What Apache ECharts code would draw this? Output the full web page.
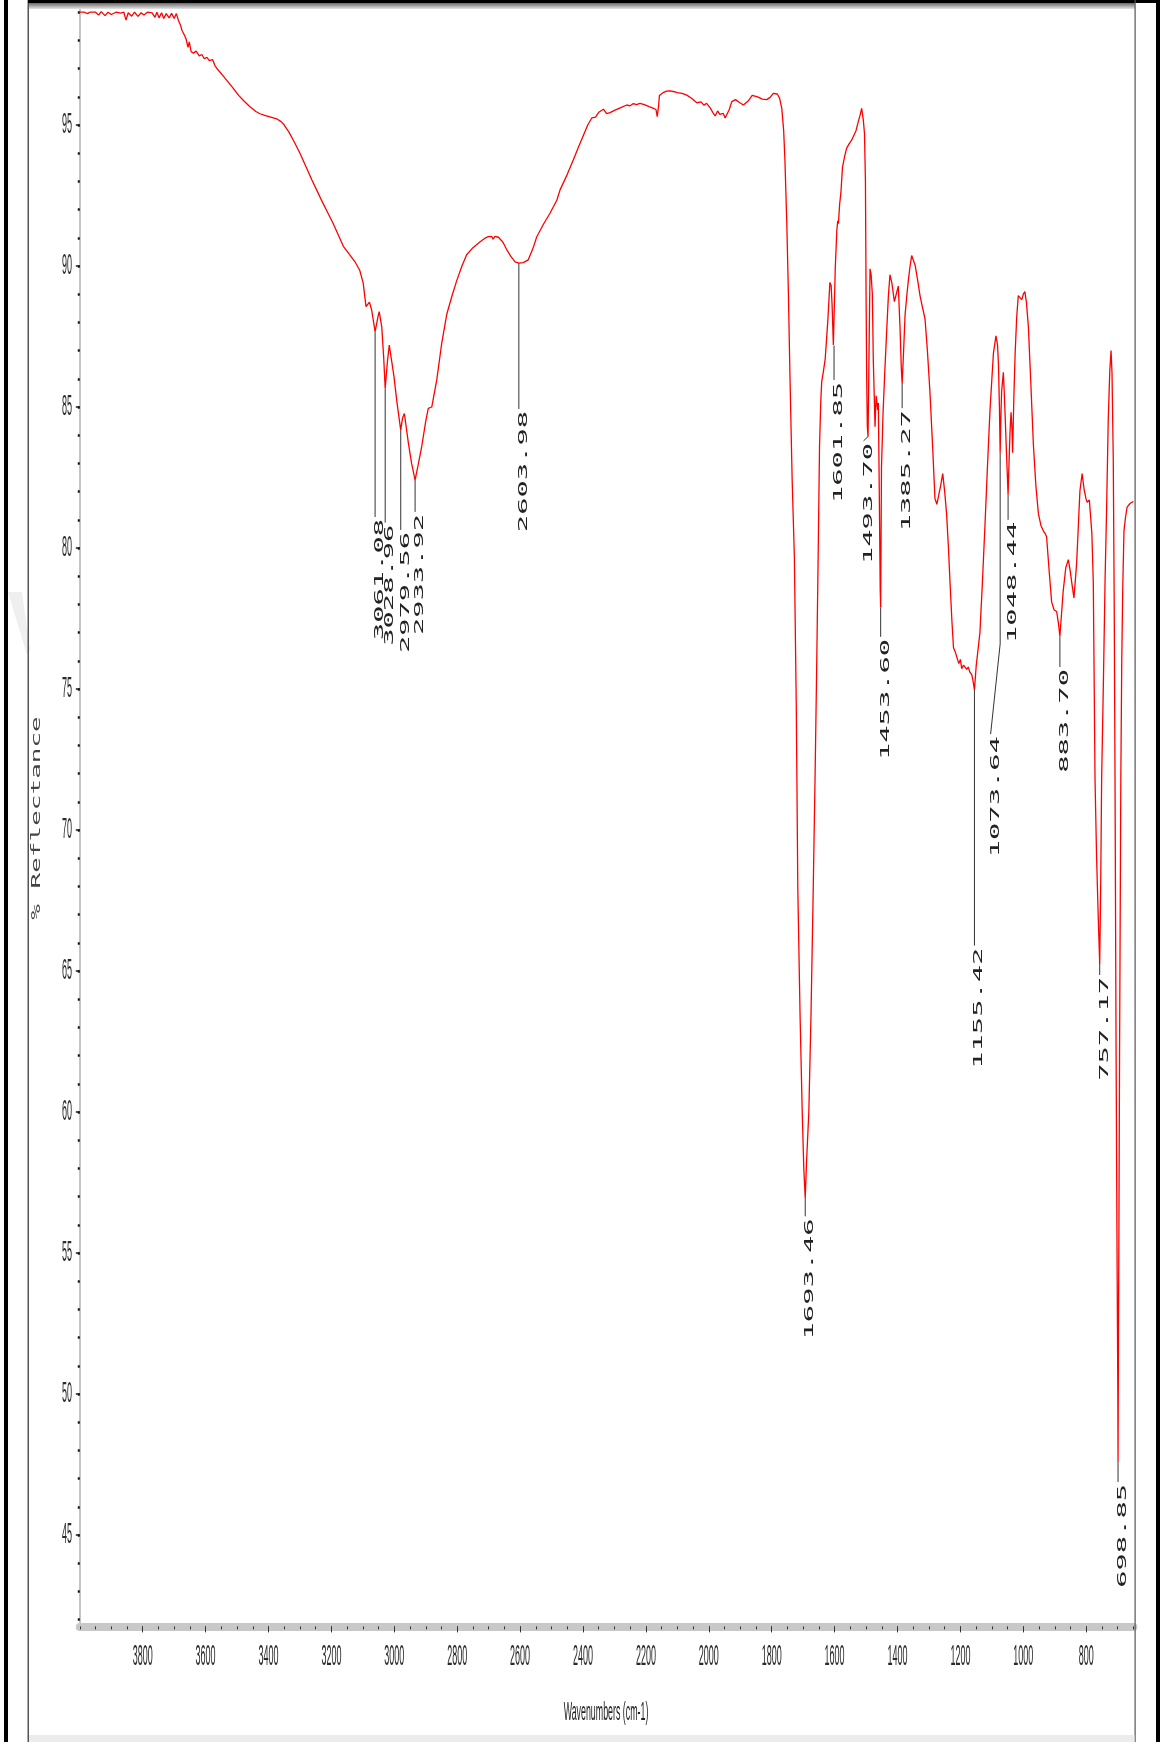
<!DOCTYPE html>
<html>
<head>
<meta charset="utf-8">
<script src="https://cdn.jsdelivr.net/npm/echarts@6/dist/echarts.min.js"></script>
<style>
  html, body { margin: 0; padding: 0; background: #ffffff; }
  #chart { width: 1168px; height: 1742px; }
</style>
</head>
<body>
<div id="chart"></div>
<script>
// IR spectrum, % reflectance vs wavenumber (cm-1), split by spectral region
const baselineRegion = [
  [4000,99.0],[3985,99.0],[3975,98.95],[3968,99.0],[3950,99.0],[3940,98.9],[3932,99.02],[3920,98.88],
  [3910,99.0],[3900,98.92],[3885,99.0],[3870,98.97],[3860,99.0],[3853,98.72],[3846,98.98],[3835,98.86],
  [3826,99.0],[3815,98.85],[3805,98.98],[3796,98.9],[3785,99.0],[3770,98.98],[3761,98.82],[3755,99.0],
  [3748,98.8],[3740,98.98],[3733,98.78],[3725,98.95],[3716,98.8],[3708,98.96],[3700,98.78],[3693,98.95],
  [3686,98.7],[3680,98.55],[3675,98.35],[3668,98.2],[3662,98.05],[3656,97.75],[3652,97.95],[3646,97.6],
  [3638,97.55],[3630,97.62],[3620,97.45],[3612,97.5],[3604,97.35],[3596,97.4],[3588,97.28],[3578,97.32],
  [3570,97.1],[3560,96.95],[3545,96.75],[3530,96.55],[3512,96.3],[3495,96.05],[3478,95.85],[3459,95.65],
  [3440,95.48],[3427,95.4],[3410,95.33],[3390,95.27],[3374,95.22],[3360,95.12],[3350,95.0],[3335,94.75],
  [3318,94.4],[3300,94.0]
];
const chStretchRegion = [
  [3280,93.5],[3262,93.05],[3247,92.7],[3230,92.3],[3212,91.9],[3194,91.5],[3178,91.1],[3162,90.7],
  [3145,90.45],[3125,90.15],[3110,89.85],[3099,89.4],[3090,88.56],[3084,88.6],[3079,88.72],[3072,88.44],
  [3061.08,87.67],[3052,88.2],[3048,88.38],[3040,87.85],[3034,86.8],[3028.96,85.66],[3022,86.6],[3016,87.2],
  [3008,86.6],[3001,86.08],[2992,85.2],[2979.56,84.18],[2974,84.6],[2968,84.77],[2955,83.7],[2945,83.0],
  [2933.92,82.41],[2925,82.9],[2913,83.59],[2900,84.5],[2892,84.95],[2881,85.0],[2865,85.96],[2850,87.2],
  [2833,88.3],[2815,89.0],[2801,89.5],[2785,90.0],[2770,90.4],[2750,90.65],[2727,90.86],[2710,91.0],
  [2701,91.04],[2690,91.05],[2686,90.95],[2680,91.05],[2669,91.02],[2655,90.85],[2642,90.57],[2630,90.35],
  [2616,90.15],[2603.98,90.1],[2590,90.12],[2574,90.22],[2560,90.6],[2547,91.04],[2525,91.5],[2505,91.87],
  [2483,92.34],[2473,92.7],[2450,93.25],[2431,93.76],[2415,94.2],[2400,94.6]
];
const midRegion = [
  [2385,95.0],[2372,95.25],[2367,95.3],[2360,95.28],[2350,95.45],[2345,95.5],[2335,95.56],[2325,95.4],
  [2314,95.44],[2300,95.52],[2280,95.62],[2261,95.71],[2250,95.68],[2240,95.76],[2230,95.72],[2219,95.77],
  [2205,95.72],[2190,95.65],[2176,95.59],[2168,95.55],[2164,95.3],[2160,95.65],[2157,96.05],[2145,96.15],
  [2135,96.2],[2123,96.21],[2110,96.18],[2100,96.15],[2085,96.12],[2070,96.06],[2055,95.95],[2045,95.85],
  [2038,95.79],[2025,95.82],[2015,95.7],[2007,95.77],[1995,95.6],[1985,95.4],[1980,95.32],[1972,95.5],
  [1965,95.38],[1960,95.35],[1954,95.41],[1948,95.25],[1943,95.3],[1935,95.55],[1927,95.83],[1915,95.9],
  [1900,95.78],[1890,95.71],[1875,95.85],[1862,96.05],[1858,96.1],[1845,96.0],[1830,95.92],[1816,95.9],
  [1805,95.98],[1795,96.12],[1789,96.18],[1782,96.1],[1775,95.95],[1768,95.59]
];
const carbonylRegion = [
  [1762,94.8],[1758,93.76],[1752,91.5],[1747,89.04],[1742,86.1],[1735,82.4],[1728,79.7],[1722,74.5],
  [1717,67.9],[1710,63.5],[1703,60.0],[1698,58.0],[1693.46,56.95],[1689,58.3],[1682,60.0],[1675,63.5],
  [1668,67.9],[1662,72.0],[1657,75.8],[1652,80.0],[1648,83.6],[1644,85.2],[1641,85.9],[1636,86.24],
  [1630,86.7],[1622,88.0],[1615,89.42],[1611,89.3],[1608,88.6],[1604,87.2],[1601.85,87.18],[1598,89.9],
  [1593,91.26],[1590,91.6],[1588,91.5],[1584,92.2],[1580,92.6],[1575,93.5],[1568,93.9],[1562,94.17],
  [1553,94.35],[1546,94.46],[1540,94.52],[1532,94.8],[1525,95.11],[1519,95.35],[1514,95.59],[1509,95.2],
  [1505,94.7],[1502,93.0]
];
const fingerprintRegion = [
  [1500,89.0],[1498,86.0],[1496,84.3],[1493.70,83.95],[1491,86.5],[1487.4,89.9],[1484,89.7],[1480,89.0],
  [1477,86.67],[1471.5,84.3],[1468,85.4],[1466,85.37],[1463,84.9],[1461,85.14],[1458,82.0],[1455,78.5],
  [1453.60,77.89],[1451,82.84],[1446,84.8],[1440,86.37],[1434,87.8],[1429,88.95],[1424,89.69],[1418,89.4],
  [1410,88.74],[1404,89.0],[1397.5,89.29],[1392,87.8],[1388,86.4],[1385.27,85.83],[1381,86.9],[1376,88.27],
  [1370,89.0],[1365.6,89.49],[1360,90.0],[1355,90.37],[1350,90.3],[1344,90.03],[1336,89.5],[1328.5,88.95],
  [1320,88.5],[1312.6,88.13],[1305,87.0],[1297,85.55],[1288,83.5],[1281,81.76],[1275,81.55],[1270,81.55],
  [1263,82.2],[1256.3,82.64],[1250,82.0],[1244,81.21],[1238,80.0],[1233,78.77],[1227,77.4],[1222,76.46],
  [1216,76.3],[1212,76.33],[1205,75.9],[1200,76.05],[1196,75.72],[1190,75.85],[1185,75.92],[1180,75.7],
  [1175,75.78],[1170,75.6],[1164,75.51],[1160,75.3],[1155.42,74.97],[1150,75.8],[1145,76.3],[1138,77.0],
  [1130,78.8],[1122,80.8],[1114,82.9],[1106,84.88],[1100,86.0],[1095,86.91],[1087,87.52],[1082,87.2],
  [1079,86.5],[1076,85.0],[1073.64,83.38],[1071,84.8],[1069,85.55],[1063.5,86.23],[1061,85.6],[1058,84.74],
  [1053,83.2],[1048.44,81.89],[1045,83.2],[1042,84.2],[1039,84.81],[1036,84.2],[1034,83.38],[1030,85.4],
  [1026,86.91],[1021,88.2],[1016,88.95],[1010,88.9],[1005,88.81]
];
const lowRegion = [
  [1000,89.0],[995,89.09],[990,88.7],[984,87.86],[976,85.8],[968,83.65],[960,82.2],[952,81.21],
  [944,80.8],[936,80.6],[930,80.5],[926,80.4],[918,79.2],[910,78.09],[902,77.8],[894,77.75],
  [888,77.3],[883.70,76.87],[879,77.6],[873,78.5],[865,79.3],[857,79.59],[851,79.2],[846,78.77],
  [839,78.23],[835,78.8],[830.5,79.46],[825,80.8],[820,82.03],[813,82.64],[807,82.1],[801,81.76],
  [797,81.62],[793.5,81.62],[790,81.7],[786,81.76],[782,80.5],[777.5,78.77],[772,71.8],[767,69.0],
  [762,67.0],[757.17,65.25],[754,68.0],[751,71.8],[745,75.5],[740,78.9],[735,81.5],[730,84.55],
  [725,86.3],[721,87.0],[718,86.2],[714,83.15],[711,78.0],[708.5,72.0],[705,62.0],[702,55.0],
  [699.5,50.0],[698.85,47.6],[697.5,52.0],[696,56.0],[694,62.0],[690,71.8],[687,76.0],[684,78.5],
  [680,80.6],[675,81.1],[670,81.45],[662,81.56],[655,81.62],[650,81.65]
];

// Tick marks
const xTickValues = [3800, 3600, 3400, 3200, 3000, 2800, 2600, 2400, 2200, 2000, 1800, 1600, 1400, 1200, 1000, 800];
const yTickValues = [45, 50, 55, 60, 65, 70, 75, 80, 85, 90, 95];

// Labelled band positions (cm-1)
const peakWavenumbers = [3061.08, 3028.96, 2979.56, 2933.92, 2603.98, 1693.46, 1601.85, 1493.70,
                         1453.60, 1385.27, 1155.42, 1073.64, 1048.44, 883.70, 757.17, 698.85];

// Callout leader layout: where each leader ends (label starts), in axis units
const calloutEnds = [[3061.08, 81.1], [3028.96, 80.9], [2979.56, 80.64], [2933.92, 81.28],
                     [2603.98, 84.93], [1693.46, 56.3], [1601.85, 85.96], [1508, 83.8],
                     [1453.60, 76.85], [1385.27, 84.96], [1155.42, 65.9], [1104, 73.4],
                     [1048.44, 81.0], [883.70, 75.78], [757.17, 64.86], [698.85, 46.88]];
const calloutBends = { 11: [1073.64, 76.6] };

const spectrum = [].concat(baselineRegion, chStretchRegion, midRegion,
                           carbonylRegion, fingerprintRegion, lowRegion);

function valueAt(w) {
  for (const p of spectrum) if (p[0] === w) return p[1];
  return null;
}

const calloutPaths = peakWavenumbers.map(function (w, i) {
  const path = [[w, valueAt(w)]];
  if (calloutBends[i]) path.push(calloutBends[i]);
  path.push(calloutEnds[i]);
  return path;
});

const xMinorTicks = [];
for (let t = 650; t <= 4000; t += 50) xMinorTicks.push(t);
const yMinorTicks = [];
for (let t = 42; t <= 99; t += 1) yMinorTicks.push(t);

const chart = echarts.init(document.getElementById('chart'), null, { renderer: 'canvas' });

chart.setOption({
  animation: false,
  backgroundColor: '#ffffff',
  grid: { left: 79.8, right: 34.6, top: 9.4, bottom: 119.6, containLabel: false },
  xAxis: [
    {
      type: 'value', position: 'bottom', inverse: true, min: 650, max: 4000, offset: 4,
      axisLine: { show: true, lineStyle: { color: '#c8c8c8', width: 8 } },
      axisTick: { show: true, customValues: xTickValues, length: 6, lineStyle: { color: '#333333', width: 1 } },
      axisLabel: { show: false, customValues: xTickValues },
      splitLine: { show: false }
    },
    {
      type: 'value', position: 'bottom', inverse: true, min: 650, max: 4000, offset: 4,
      axisLine: { show: false },
      axisTick: { show: true, customValues: xMinorTicks, length: 3, lineStyle: { color: '#333333', width: 1 } },
      axisLabel: { show: false },
      splitLine: { show: false }
    }
  ],
  yAxis: [
    {
      type: 'value', position: 'left', min: 41.9, max: 99.1,
      axisLine: { show: true, lineStyle: { color: '#c4c4c4', width: 2 } },
      axisTick: { show: true, customValues: yTickValues, length: 4, lineStyle: { color: '#222222', width: 1.5 } },
      axisLabel: { show: false, customValues: yTickValues },
      splitLine: { show: false }
    },
    {
      type: 'value', position: 'left', min: 41.9, max: 99.1,
      axisLine: { show: false },
      axisTick: { show: true, customValues: yMinorTicks, length: 2, lineStyle: { color: '#111111', width: 2.5 } },
      axisLabel: { show: false },
      splitLine: { show: false }
    }
  ],
  series: [
    {
      type: 'line', name: 'spectrum', xAxisIndex: 0, yAxisIndex: 0,
      data: spectrum, showSymbol: false, symbol: 'none', smooth: false,
      lineStyle: { color: '#ff0000', width: 1.3 }, z: 3
    },
    {
      type: 'lines', coordinateSystem: 'cartesian2d', xAxisIndex: 0, yAxisIndex: 0,
      polyline: true, silent: true,
      data: calloutPaths.map(function (p) { return { coords: p }; }),
      lineStyle: { color: '#333333', width: 1, opacity: 1 }, z: 2
    }
  ]
});

const elements = [];

// Tall, condensed tick labels placed on the axis scales
const tickFont = '30px "Liberation Sans", Arial, sans-serif';
xTickValues.forEach(function (v) {
  const px = chart.convertToPixel({ xAxisIndex: 0 }, v);
  elements.push({
    type: 'text', x: px, y: 1657, scaleX: 0.3, scaleY: 1,
    style: { text: String(v), font: tickFont, fill: '#2a2a2a', align: 'center', verticalAlign: 'middle' },
    z: 10
  });
});
yTickValues.forEach(function (v) {
  const py = chart.convertToPixel({ yAxisIndex: 0 }, v);
  elements.push({
    type: 'text', x: 72, y: py, scaleX: 0.3, scaleY: 1,
    style: { text: String(v), font: tickFont, fill: '#2a2a2a', align: 'right', verticalAlign: 'middle' },
    z: 10
  });
});

// Rotated, stretched band labels hanging below each leader
peakWavenumbers.forEach(function (w, i) {
  const p = chart.convertToPixel({ seriesIndex: 0 }, calloutEnds[i]);
  elements.push({
    type: 'text', x: p[0] + 5, y: p[1] + 2, rotation: Math.PI / 2, scaleX: 2.5, scaleY: 1,
    style: { text: w.toFixed(2), font: '11.5px "DejaVu Sans Mono"', fill: '#222222',
             align: 'right', verticalAlign: 'middle' },
    z: 10
  });
});

// Axis titles
elements.push({
  type: 'text', x: 37, y: 818, rotation: Math.PI / 2, scaleX: 2.0, scaleY: 1,
  style: { text: '% Reflectance', font: '13px "DejaVu Sans Mono"', fill: '#444444',
           align: 'center', verticalAlign: 'middle' }, z: 10
});
elements.push({
  type: 'text', x: 606, y: 1713, scaleX: 0.34, scaleY: 1,
  style: { text: 'Wavenumbers (cm-1)', font: '26px "Liberation Sans"', fill: '#222222',
           align: 'center', verticalAlign: 'middle' }, z: 10
});

// Page frame
elements.push({ type: 'rect', shape: { x: 4, y: 0, width: 4, height: 1742 }, style: { fill: '#000000' }, z: 20 });
elements.push({ type: 'rect', shape: { x: 27.5, y: 0, width: 1.5, height: 1742 }, style: { fill: '#555555' }, z: 20 });
elements.push({ type: 'rect', shape: { x: 28, y: 0, width: 1132, height: 3 }, style: { fill: '#000000' }, z: 20 });
elements.push({
  type: 'rect', shape: { x: 29, y: 3, width: 1106, height: 6 },
  style: { fill: new echarts.graphic.LinearGradient(0, 0, 0, 1, [
    { offset: 0, color: '#6a6a6a' }, { offset: 1, color: '#e6e6e6' }]) }, z: 20
});
elements.push({ type: 'rect', shape: { x: 1134.5, y: 0, width: 1.2, height: 1742 }, style: { fill: '#555555' }, z: 20 });
elements.push({ type: 'rect', shape: { x: 1156, y: 0, width: 4, height: 1742 }, style: { fill: '#000000' }, z: 20 });
elements.push({ type: 'rect', shape: { x: 29, y: 1735, width: 1105.5, height: 7 }, style: { fill: '#ececec' }, z: 20 });
elements.push({
  type: 'polygon', shape: { points: [[8, 592], [22, 592], [30, 650], [27, 655]] },
  style: { fill: '#efefef' }, z: 1
});

chart.setOption({ graphic: { elements: elements } });
</script>
</body>
</html>
